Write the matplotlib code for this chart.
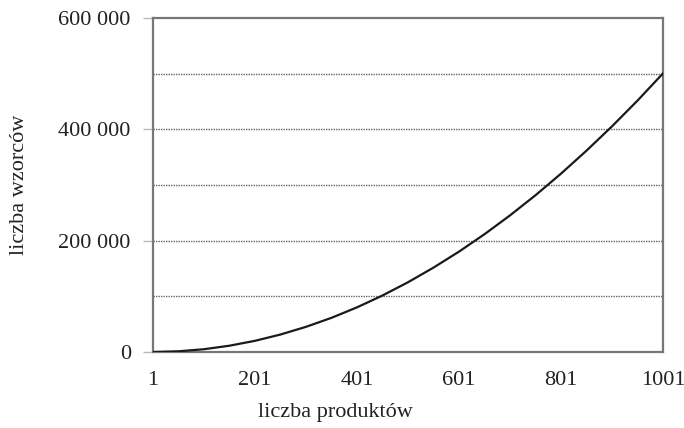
import matplotlib
matplotlib.use("Agg")
import matplotlib.pyplot as plt

# liczba produktów vs liczba wzorców
produkty = [1, 51, 101, 151, 201, 251, 301, 351, 401, 451, 501,
            551, 601, 651, 701, 751, 801, 851, 901, 951, 1001]
wzorce = [0, 1300, 5000, 11300, 20100, 31400, 45200, 61400, 80200, 101500, 125300,
          151600, 180300, 211600, 245400, 281600, 320400, 361700, 405400, 451600, 500500]

x_ticks = [1, 201, 401, 601, 801, 1001]
y_ticks = [0, 200000, 400000, 600000]
y_grid = [100000, 200000, 300000, 400000, 500000]

plt.rcParams['font.family'] = ['Liberation Serif', 'DejaVu Serif']

fig = plt.figure(figsize=(6.84, 4.28), dpi=100)
ax = fig.add_axes([153 / 684, 1 - 352 / 428, 510 / 684, 334 / 428])

for g in y_grid:
    ax.axhline(g, color='#666666', lw=1.0, ls=(0, (1, 0.8)), zorder=1)

ax.plot(produkty, wzorce, color='#1a1a1a', lw=1.6, zorder=3)

ax.set_xlim(1, 1001)
ax.set_ylim(0, 600000)
ax.set_xticks(x_ticks)
ax.set_xticklabels([str(v) for v in x_ticks])
ax.set_yticks(y_ticks)
ax.set_yticklabels([f"{v:,}".replace(",", " ") for v in y_ticks])

for s in ax.spines.values():
    s.set_color('#777777')
    s.set_linewidth(1.6)

ax.tick_params(axis='x', length=0, pad=14, labelsize=16, colors='#222222')
ax.tick_params(axis='y', length=7, width=1, color='#bbbbbb', pad=9, labelsize=16, labelcolor='#222222')

fig.text(335 / 684, 1 - 412 / 428, "liczba produktów", ha='center', va='center',
         fontsize=16, color='#222222')
fig.text(20 / 684, 1 - 185 / 428, "liczba wzorców", ha='center', va='center',
         rotation=90, fontsize=16, color='#222222')

fig.savefig("out.png", dpi=100)
